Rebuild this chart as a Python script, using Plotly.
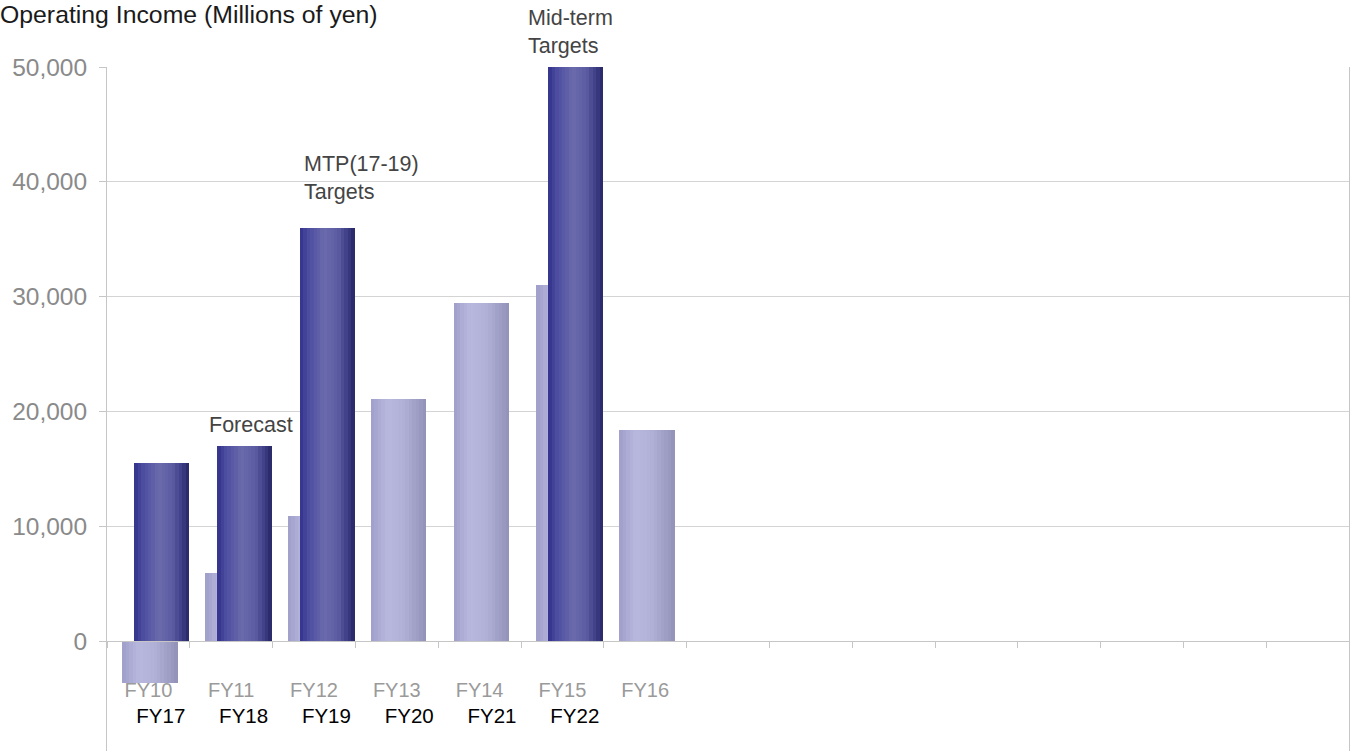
import plotly.graph_objects as go

# Fiscal-year labels and operating income (millions of yen)
fy_results = ["FY10", "FY11", "FY12", "FY13", "FY14", "FY15", "FY16"]
income_results = [-3700, 5900, 10900, 21100, 29400, 31000, 18400]

fy_plan = ["FY17", "FY18", "FY19", "FY20", "FY21", "FY22"]
income_plan = [15500, 17000, 36000, None, None, 50000]

y_ticks = [0, 10000, 20000, 30000, 40000, 50000]
n_slots = 15
y_min, y_max = -9582, 50000

# horizontal shading profiles (position across bar, rgb)
light_profile = [(0.0, (158, 158, 202)), (0.3, (184, 184, 222)), (0.6, (176, 176, 214)),
                 (1.0, (146, 146, 184))]
dark_profile = [(0.0, (50, 50, 138)), (0.15, (76, 76, 160)), (0.45, (106, 106, 172)),
                (0.7, (92, 92, 162)), (0.9, (56, 56, 128)), (1.0, (38, 38, 100))]


def shade(profile, t):
    for (t0, c0), (t1, c1) in zip(profile[:-1], profile[1:]):
        if t0 <= t <= t1:
            f = (t - t0) / (t1 - t0)
            r, g, b = (round(a + (b_ - a) * f) for a, b_ in zip(c0, c1))
            return f"rgb({r},{g},{b})"
    r, g, b = profile[-1][1]
    return f"rgb({r},{g},{b})"


def shaded_bars(fig, values, offset, width, profile, xaxis, n=16):
    xs = list(range(len(values)))
    step = width / n
    for i in range(n):
        fig.add_trace(go.Bar(
            x=xs, y=values, xaxis=xaxis, yaxis="y",
            offset=offset + i * step, width=step * 1.02,
            marker=dict(color=shade(profile, (i + 0.5) / n), line=dict(width=0)),
            hoverinfo="skip", showlegend=False,
        ))


fig = go.Figure()
shaded_bars(fig, income_results, -0.315, 0.67, light_profile, "x")
shaded_bars(fig, income_plan, -0.17, 0.66, dark_profile, "x2")

zero_pos = -y_min / (y_max - y_min)
axis_grey = "#c6c6c6"
font = "Liberation Sans, Arial, sans-serif"

fig.update_layout(
    width=1356, height=751,
    margin=dict(l=107, r=7, t=67, b=0),
    paper_bgcolor="white", plot_bgcolor="white",
    barmode="overlay", bargap=0,
    font=dict(family=font),
    title=dict(text="Operating Income (Millions of yen)", x=0.0, xref="container",
               xanchor="left", y=1 - 14 / 751, yref="container", yanchor="middle",
               font=dict(size=24.8, color="#1a1a1a", family=font)),
    yaxis=dict(range=[y_min, y_max], tickvals=y_ticks, tickformat=",d",
               showgrid=True, gridcolor="#d4d4d4", gridwidth=1,
               showline=True, linecolor=axis_grey, mirror=True,
               ticks="outside", ticklen=7, tickcolor=axis_grey,
               tickfont=dict(size=24.5, color="#8a8a8a"), ticklabelstandoff=7,
               zeroline=False, automargin=False),
    xaxis=dict(range=[-0.5, n_slots - 0.5], anchor="free", position=zero_pos,
               showline=True, linecolor=axis_grey, showgrid=False, zeroline=False,
               tickvals=list(range(len(fy_results))), ticktext=fy_results, ticks="",
               tickfont=dict(size=20, color="#9a9a9a"), ticklabelstandoff=31,
               minor=dict(tickvals=[i - 0.5 for i in range(n_slots + 1)], ticks="outside",
                          ticklen=6, tickcolor=axis_grey, showgrid=False),
               automargin=False),
    xaxis2=dict(range=[-0.5, n_slots - 0.5], overlaying="x", anchor="free",
                position=zero_pos, side="bottom",
                showline=False, showgrid=False, zeroline=False,
                tickvals=[i + 0.15 for i in range(len(fy_plan))], ticktext=fy_plan,
                ticks="", tickfont=dict(size=20.5, color="#000000"),
                ticklabelstandoff=61, automargin=False),
)

note_font = dict(size=21.5, color="#444444", family=font)
fig.add_annotation(x=1.245, y=income_plan[1], xref="x2", yref="y", text="Forecast",
                   showarrow=False, xanchor="center", yanchor="bottom", yshift=7,
                   font=note_font)
fig.add_annotation(x=2 - 0.14, y=income_plan[2], xref="x2", yref="y",
                   text="MTP(17-19)<br>Targets", align="left", showarrow=False,
                   xanchor="left", yanchor="bottom", yshift=22, font=note_font)
fig.add_annotation(x=5 - 0.44, y=income_plan[5], xref="x2", yref="y",
                   text="Mid-term<br>Targets", align="left", showarrow=False,
                   xanchor="left", yanchor="bottom", yshift=7, font=note_font)

fig.write_html("out.html")
